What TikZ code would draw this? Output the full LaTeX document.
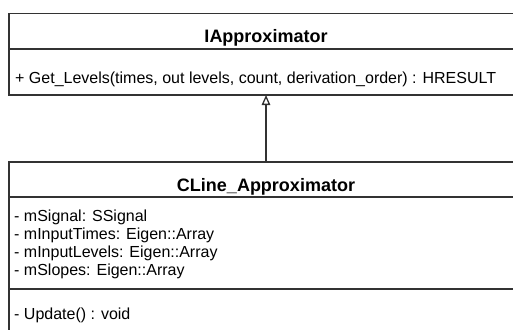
\documentclass[tikz,border=0pt]{standalone}
\usepackage{fontspec}
\setmainfont{Liberation Sans}
\usetikzlibrary{arrows.meta}

\tikzset{
  umlline/.style={draw=black!80, line width=1.3pt},
  classbox/.style={umlline, rectangle, anchor=north west, inner sep=0pt, outer sep=0pt, minimum width=514pt},
  classname/.style={font=\fontsize{18}{20}\selectfont\bfseries, anchor=base, inner sep=0pt},
  member/.style={font=\fontsize{16}{18}\selectfont, anchor=base west, inner sep=0pt},
  realizes/.style={umlline, -{Triangle[open, length=10pt, width=8.5pt]}},
}

\begin{document}
\begin{tikzpicture}[x=1pt, y=-1pt]

\useasboundingbox (0,0) rectangle (513,329);
\clip (0,0) rectangle (513,329);

\node[classbox, minimum height=81.5pt] (iface) at (9,13.5) {};
\node[classbox, minimum height=200pt] (cline) at (9,162) {};

\draw[umlline] (iface.west |- 0,49) -- (iface.east |- 0,49);
\draw[umlline] (cline.west |- 0,197) -- (cline.east |- 0,197);
\draw[umlline] (cline.west |- 0,289) -- (cline.east |- 0,289);

\node[classname] (iface-name) at (266,42) {IApproximator};
\node[member] (iface-op1) at (15,83) {+ Get\_Levels(times, out levels, count, derivation\_order) : HRESULT};

\node[classname] (cline-name) at (266,191) {CLine\_Approximator};
\node[member] (cline-at1) at (14,221) {- mSignal: SSignal};
\node[member] (cline-at2) at (14,239) {- mInputTimes: Eigen::Array};
\node[member] (cline-at3) at (14,257) {- mInputLevels: Eigen::Array};
\node[member] (cline-at4) at (14,275) {- mSlopes: Eigen::Array};
\node[member] (cline-op1) at (14,319) {- Update() : void};

\draw[realizes] (cline.north) -- (iface.south);

\end{tikzpicture}
\end{document}
